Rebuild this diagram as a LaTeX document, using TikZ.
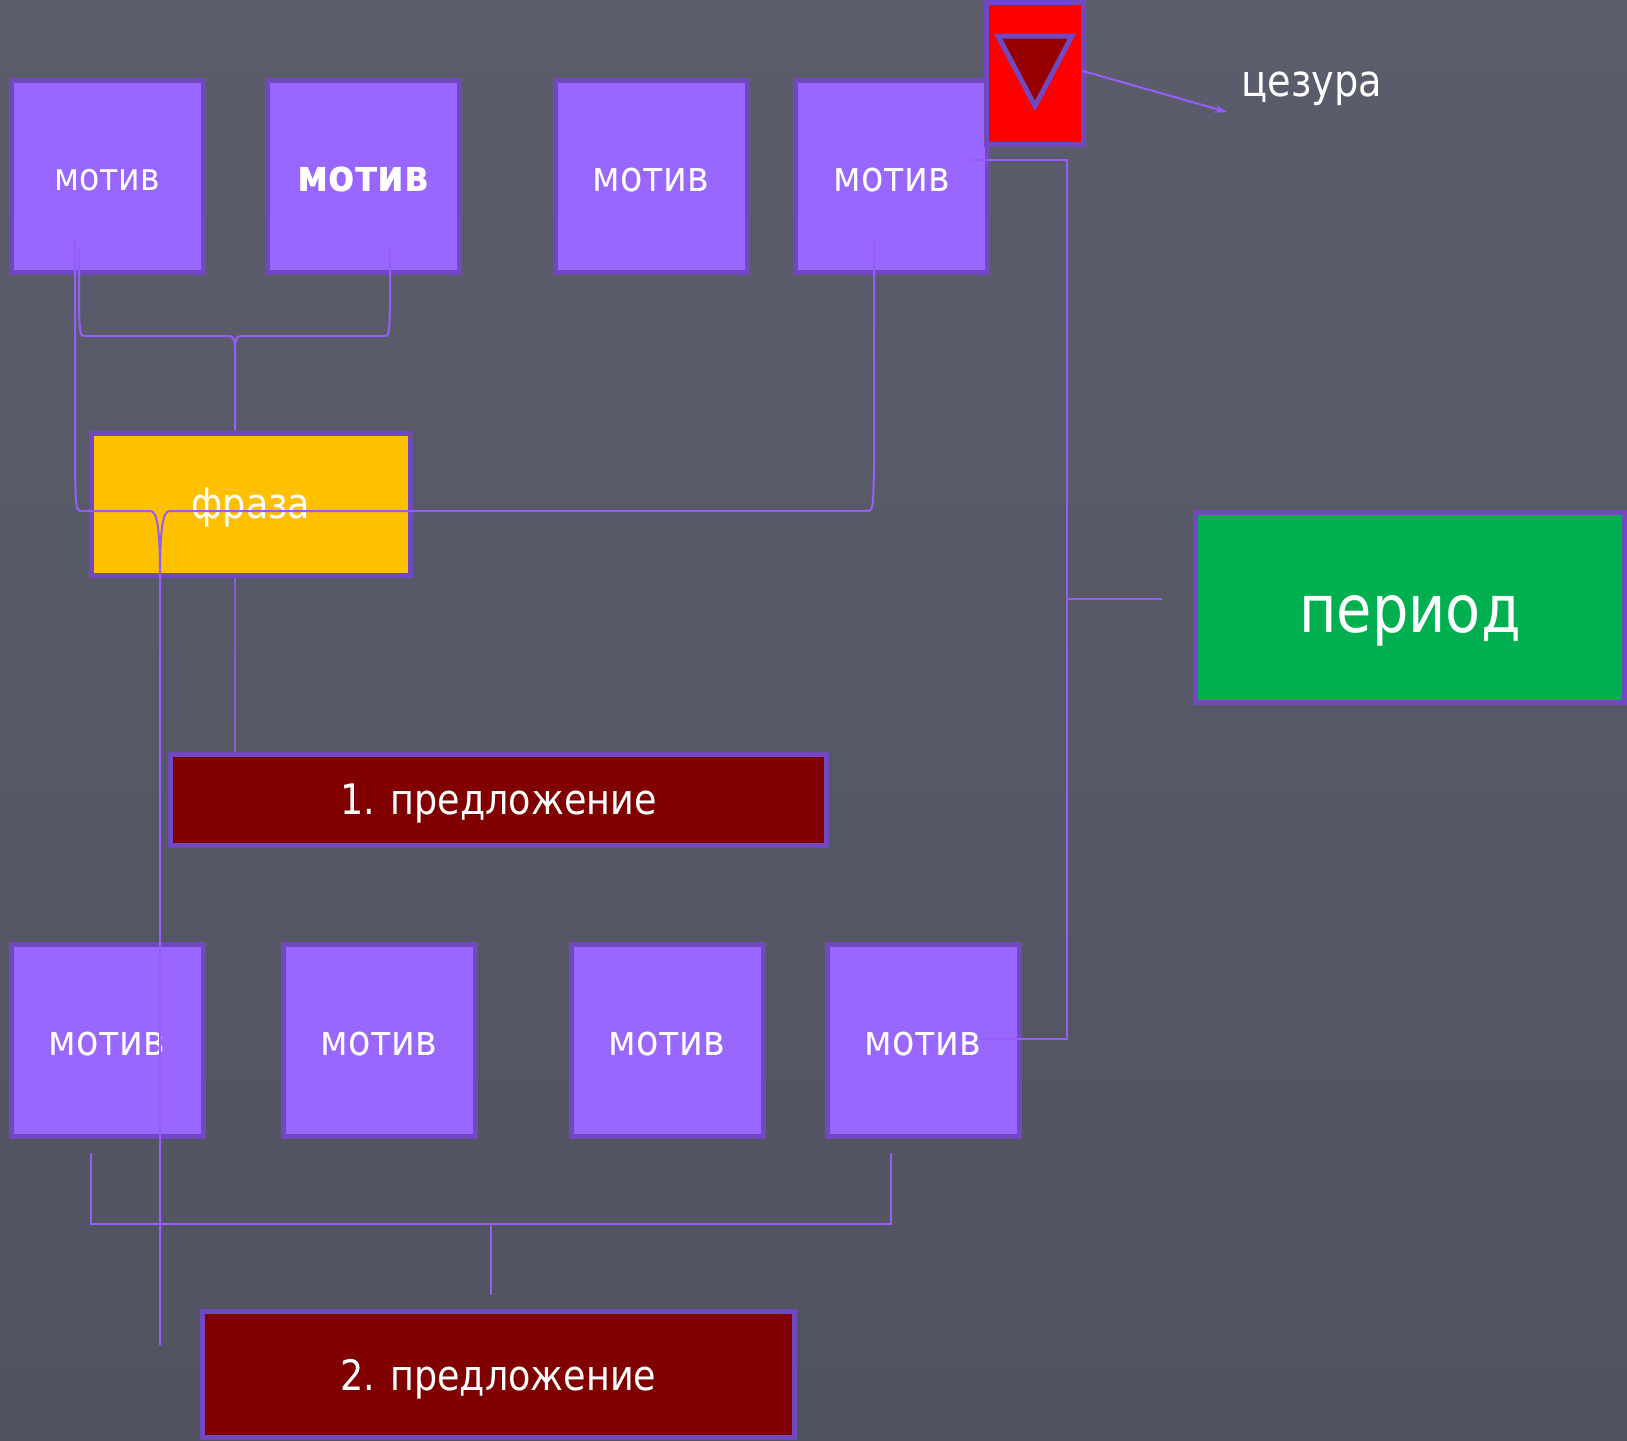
\documentclass[tikz,border=0pt]{standalone}
\usepackage{fontspec}
\setmainfont{DejaVu Sans}[FakeStretch=0.87]
\usetikzlibrary{arrows.meta}
\definecolor{bgtop}{HTML}{5C5D6C}
\definecolor{bgbot}{HTML}{515361}
\definecolor{motfill}{HTML}{9966FF}
\definecolor{edge}{HTML}{7048C0}
\definecolor{conncol}{HTML}{955EFA}
\definecolor{fraz}{HTML}{FFC000}
\definecolor{perio}{HTML}{00B050}
\definecolor{predl}{HTML}{800000}
\definecolor{tri}{HTML}{960000}
\tikzset{
  box/.style={draw=edge, line width=5pt, text=white, inner sep=0pt, text depth=0pt},
  motif/.style={box, fill=motfill, minimum width=192pt, minimum height=192pt,
    font=\fontsize{42}{50}\selectfont, text height=30pt},
  conn/.style={draw=conncol, line width=2pt},
  faint/.style={draw=conncol, line width=1.5pt, opacity=0.75},
}
\begin{document}
\begin{tikzpicture}[x=1pt,y=-1pt]
\useasboundingbox (0,0) rectangle (1627,1440);
\shade[top color=bgtop, bottom color=bgbot] (0,0) rectangle (1627,1440);

% top row
\node[motif, font=\fontsize{38}{46}\selectfont, text height=28pt] (m1) at (107,176) {мотив};
\node[motif, font=\fontsize{44}{52}\bfseries\selectfont, text height=30pt] (m2) at (363,176) {мотив};
\node[motif] (m3) at (651,176) {мотив};
\node[motif, minimum width=191.5pt] (m4) at (891.7,176) {мотив};

% caesura box
\node[box, fill=red, minimum width=97pt, minimum height=141.5pt] (caes) at (1035,73.25) {};
\draw[draw=edge, line width=5pt, fill=tri, line join=miter] (998,36) -- (1072,36) -- (1035,106) -- cycle;
\node[text=white, font=\fontsize{44}{52}\selectfont, anchor=base] (caestext) at (1312,96.7) {цезура};

% phrase
\node[box, fill=fraz, minimum width=319pt, minimum height=142.5pt,
  font=\fontsize{42}{50}\selectfont, text height=29pt] (fraza) at (251,504.25) {фраза};

% period
\node[box, fill=perio, minimum width=429pt, minimum height=190pt,
  font=\fontsize{66}{76}\selectfont, text height=51pt] (period) at (1410,607) {период};

% sentences
\node[box, fill=predl, minimum width=656pt, minimum height=91pt,
  font=\fontsize{42}{50}\selectfont, text height=28pt] (s1) at (498.5,800) {1. предложение};
\node[box, fill=predl, minimum width=591.5pt, minimum height=126pt,
  font=\fontsize{42}{50}\selectfont, text height=31pt] (s2) at (498.25,1374.5) {2. предложение};

% bottom row
\node[motif] (b1) at (107,1040) {мотив};
\node[motif] (b2) at (379,1040) {мотив};
\node[motif] (b3) at (667,1040) {мотив};
\node[motif] (b4) at (923,1040) {мотив};

% connector points
\coordinate (aL) at (79,248);
\coordinate (aR) at (390,248);
\coordinate (aM) at (235,336);
\coordinate (bL) at (75,240);
\coordinate (bR) at (874,240);
\coordinate (bEnd) at (160,1345);
\coordinate (cTop) at (970,160);
\coordinate (cBot) at (979.5,1039);
\coordinate (cV) at (1067,599);
\coordinate (cTick) at (1162,599);
\coordinate (dL) at (91,1153);
\coordinate (dR) at (890.5,1153);
\coordinate (dM) at (490.6,1224);
\coordinate (dEnd) at (490.6,1295);
\coordinate (arrEnd) at (1227,112);

% brace motif1+motif2 -> phrase
\draw[conn] (aL) -- (79,310) .. controls (80,336) .. (86,336) -- (229,336)
  .. controls (234,336) and (235,340) .. (235,352) -- (aM |- fraza.north);
\draw[conn] (aR) -- (390,310) .. controls (389,336) .. (383,336) -- (241,336)
  .. controls (236,336) and (235,340) .. (235,352);

% long brace motif1..motif4
\draw[conn] (bL) -- (75,470) .. controls (76,511) .. (83,511) -- (150,511)
  .. controls (157,511) and (160,525) .. (160,580) -- (bEnd);
\draw[conn] (bR) -- (874,470) .. controls (873,511) .. (866,511) -- (170,511)
  .. controls (163,511) and (160,525) .. (160,580);

% phrase -> sentence 1
\draw[faint] (235,578) -- (235,752);

% big right bracket -> period
\draw[conn] (cTop) -- (1067,160) -- (1067,1039) -- (cBot);
\draw[conn] (cV) -- (cTick);

% bottom brace -> sentence 2
\draw[conn] (dL) |- (dM) -| (dR);
\draw[conn] (dM) -- (dEnd);

% caesura arrow
\draw[conn, -{Stealth[length=12pt,width=8pt]}] (1083,71) -- (arrEnd);
\end{tikzpicture}
\end{document}
